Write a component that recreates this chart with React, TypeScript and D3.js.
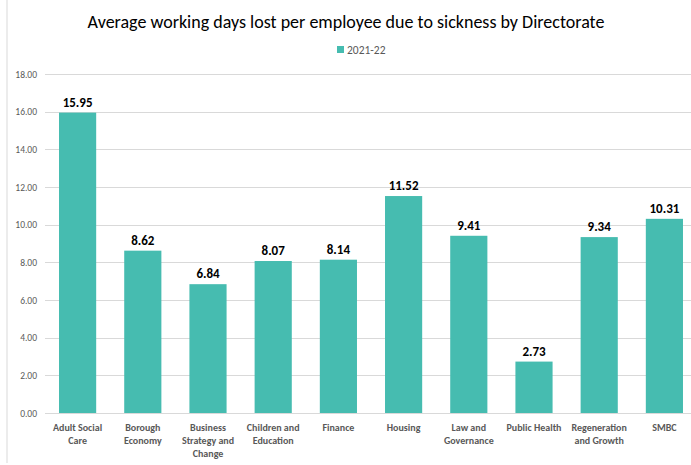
import React from "react";
import * as d3 from "d3";

const categories = [
  "Adult Social Care",
  "Borough Economy",
  "Business Strategy and Change",
  "Children and Education",
  "Finance",
  "Housing",
  "Law and Governance",
  "Public Health",
  "Regeneration and Growth",
  "SMBC",
];
const categoryLines = [
  ["Adult Social", "Care"],
  ["Borough", "Economy"],
  ["Business", "Strategy and", "Change"],
  ["Children and", "Education"],
  ["Finance"],
  ["Housing"],
  ["Law and", "Governance"],
  ["Public Health"],
  ["Regeneration", "and Growth"],
  ["SMBC"],
];
const values = [15.95, 8.62, 6.84, 8.07, 8.14, 11.52, 9.41, 2.73, 9.34, 10.31];
const yTicks = [0, 2, 4, 6, 8, 10, 12, 14, 16, 18];
const seriesName = "2021-22";
const title = "Average working days lost per employee due to sickness by Directorate";

const W = 691;
const H = 465;
const FONT = "Carlito, Calibri, Lato, 'Open Sans', sans-serif";
const BAR = "#46BCB0";

export default function App() {
  const left = 45;
  const right = 697;
  const top = 74;
  const bottom = 413;
  const x = d3.scaleBand<string>().domain(categories).range([left, right]).paddingInner(0.43).paddingOuter(0.215);
  const y = d3.scaleLinear().domain([0, 18]).range([bottom, top]);

  return (
    <svg width={W} height={H} style={{ position: "absolute", left: 0, top: 0, background: "#fff" }} fontFamily={FONT}>
      <rect x={0} y={0} width={W} height={H} fill="#fff" />
      <line x1={7} x2={7} y1={0} y2={463} stroke="#d9d9d9" strokeWidth={1} />
      <text x={346} y={28} textAnchor="middle" fontSize={18} fill="#000">{title}</text>
      <rect x={337} y={46} width={7} height={7} fill={BAR} />
      <text x={347} y={53.5} fontSize={11.5} fill="#595959">{seriesName}</text>
      {yTicks.map((t) => (
        <g key={t}>
          <line x1={left} x2={W} y1={Math.round(y(t)) + 0.5} y2={Math.round(y(t)) + 0.5} stroke="#d9d9d9" strokeWidth={1} />
          <text x={37} y={y(t) + 3.5} textAnchor="end" fontSize={9.5} fill="#595959">{t.toFixed(2)}</text>
        </g>
      ))}
      {categories.map((c, i) => {
        const bx = x(c)!;
        const bw = x.bandwidth();
        return (
          <g key={c}>
            <rect x={bx} y={y(values[i])} width={bw} height={bottom - y(values[i])} fill={BAR} />
            <text x={bx + bw / 2} y={y(values[i]) - 6} textAnchor="middle" fontSize={13} fontWeight="bold" fill="#000">{values[i].toFixed(2)}</text>
            {categoryLines[i].map((ln, j) => (
              <text key={j} x={bx + bw / 2} y={430.5 + j * 13} textAnchor="middle" fontSize={10} fontWeight="bold" fill="#595959">{ln}</text>
            ))}
          </g>
        );
      })}
    </svg>
  );
}
